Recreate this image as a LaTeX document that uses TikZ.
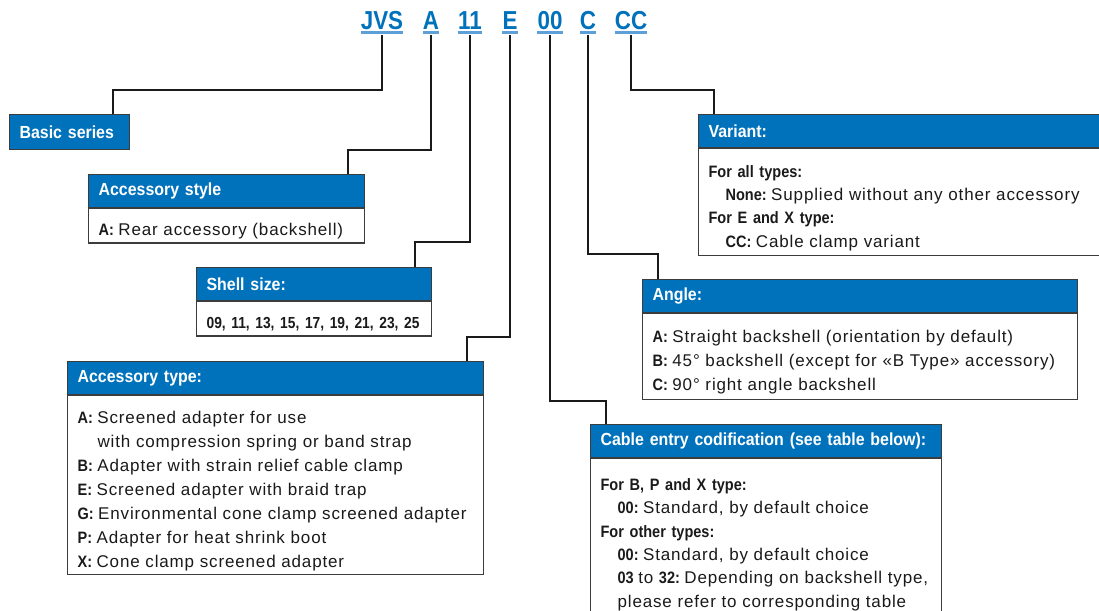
\documentclass[tikz,border=0pt]{standalone}
\usepackage{fontspec}
\usepackage{tikz}
\setmainfont{Liberation Sans}
\newfontfamily\bodyfont{Liberation Sans}[LetterSpace=5]
\newfontfamily\condfont{Liberation Sans}[FakeStretch=0.86]
\newfontfamily\headfont{Liberation Sans}[FakeStretch=0.91]
\newfontfamily\labfont{Liberation Sans}[FakeStretch=0.88]
\definecolor{Blue}{HTML}{0071BB}
\definecolor{Lite}{HTML}{5DA0D8}
\definecolor{Edge}{HTML}{3C3C3C}
\definecolor{Ink}{HTML}{1A1A1A}
\newcommand{\kw}[1]{{\labfont\bfseries\fontsize{16.5}{24}\selectfont #1}\hspace{4.5pt}\ignorespaces}
\tikzset{
  code/.style={font=\condfont\bfseries\fontsize{26}{28}\selectfont, text=Blue, inner sep=0pt, anchor=base},
  uline/.style={Lite, line width=2.2pt},
  wire/.style={Ink, line width=1.2pt},
  head/.style={fill=Blue, draw=Edge, line width=1.2pt, text=white,
    font=\headfont\bfseries\fontsize{17.5}{20}\selectfont, inner xsep=10pt, inner ysep=0pt,
    minimum height=33pt, anchor=north west, text width=#1, align=left},
  bodybox/.style={fill=white, draw=Edge, line width=1.2pt, text=Ink,
    font=\bodyfont\fontsize{17}{24}\selectfont, inner xsep=10pt, inner ysep=0pt,
    anchor=north west, text width=#1, align=left,
    execute at begin node=\rule{0pt}{27pt}, execute at end node=\strut},
  tight/.style={font=\bodyfont\fontsize{17}{23.3}\selectfont},
}

\begin{document}
\begin{tikzpicture}[x=1pt,y=-1pt]
  \def\ind{\hspace*{17pt}}
  \useasboundingbox (0,0) rectangle (1099,610);
  \clip (0,0) rectangle (1099,610);
  \fill[white] (0,0) rectangle (1099,610);

  \foreach \c/\x in {JVS/382, A/431, 11/470, E/510, 00/550, C/588, CC/631} {
    \node[code] (c\c) at (\x,30) {\c};
    \draw[uline] ([yshift=-2.5pt]c\c.base west) -- ([yshift=-2.5pt]c\c.base east);
  }

  \node[head=100pt, minimum height=35pt] (basic) at (9,114) {Basic series};

  \node[head=256pt] (styhd) at (88,174) {Accessory style};
  \node[bodybox=256pt, minimum height=34pt] (stybd) at (styhd.south west)
    {\kw{A:} Rear accessory (backshell)};

  \node[head=215pt] (sizehd) at (196,267) {Shell size:};
  \node[bodybox=215pt, minimum height=34pt] (sizebd) at (sizehd.south west)
    {{\condfont\bfseries\fontsize{16}{24}\selectfont 09, 11, 13, 15, 17, 19, 21, 23, 25}};

  \node[head=396pt] (typehd) at (67,361) {Accessory type:};
  \node[bodybox=396pt, minimum height=179pt] (typebd) at (typehd.south west)
    {\kw{A:} Screened adapter for use\\
     \hspace*{20pt}with compression spring or band strap\\
     \kw{B:} Adapter with strain relief cable clamp\\
     \kw{E:} Screened adapter with braid trap\\
     \kw{G:} Environmental cone clamp screened adapter\\
     \kw{P:} Adapter for heat shrink boot\\
     \kw{X:} Cone clamp screened adapter};

  \node[head=400pt] (varhd) at (698,114) {Variant:};
  \node[bodybox=400pt, tight, minimum height=107pt] (varbd) at (varhd.south west)
    {\kw{For all types:}\\
     \ind\kw{None:} Supplied without any other accessory\\
     \kw{For E and X type:}\\
     \ind\kw{CC:} Cable clamp variant};

  \node[head=415pt] (anglehd) at (642,279) {Angle:};
  \node[bodybox=415pt, minimum height=86pt] (anglebd) at (anglehd.south west)
    {\kw{A:} Straight backshell (orientation by default)\\
     \kw{B:} 45° backshell (except for «B Type» accessory)\\
     \kw{C:} 90° right angle backshell};

  \node[head=331pt] (cablehd) at (590,424) {Cable entry codification (see table below):};
  \node[bodybox=331pt, tight, minimum height=160pt] (cablebd) at (cablehd.south west)
    {\kw{For B, P and X type:}\\
     \ind\kw{00:} Standard, by default choice\\
     \kw{For other types:}\\
     \ind\kw{00:} Standard, by default choice\\
     \ind\kw{03} to \kw{32:} Depending on backshell type,\\
     \ind please refer to corresponding table};

  \coordinate (kJVS) at (113,90);
  \coordinate (kA) at (348,150);
  \coordinate (k11) at (415,242);
  \coordinate (kE) at (467,337);
  \coordinate (k00) at (606,401);
  \coordinate (kC) at (658,254);
  \coordinate (kCC) at (714,90);
  \foreach \c/\b in {JVS/basic, A/styhd, 11/sizehd, E/typehd, 00/cablehd, C/anglehd, CC/varhd}
    \draw[wire] ([yshift=-5.5pt]c\c.base) |- (k\c) -- (k\c |- \b.north);
\end{tikzpicture}
\end{document}
